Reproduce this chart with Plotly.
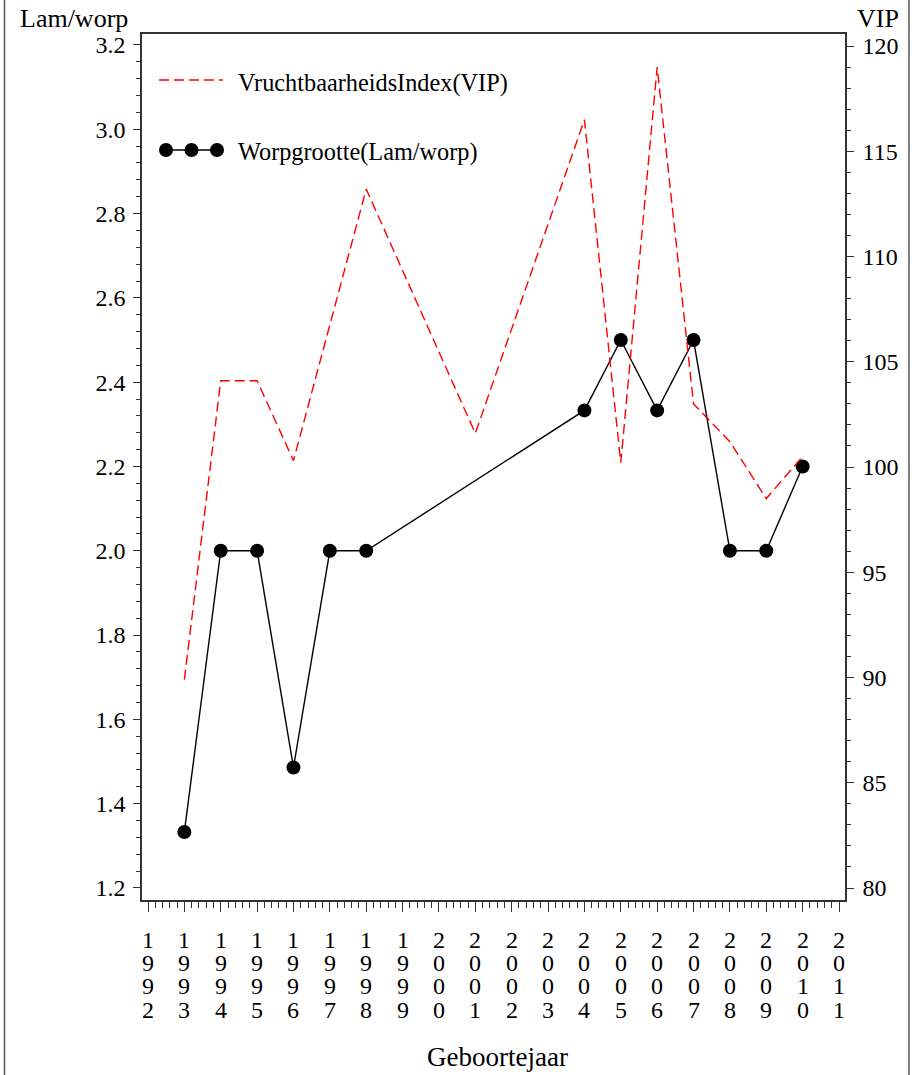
import plotly.graph_objects as go

# ---------------- data ----------------
worp_years = [1993, 1994, 1995, 1996, 1997, 1998, 2004, 2005, 2006, 2007, 2008, 2009, 2010]
worp_values = [1.333, 2.0, 2.0, 1.486, 2.0, 2.0, 2.333, 2.5, 2.333, 2.5, 2.0, 2.0, 2.2]

vip_years = [1993, 1994, 1995, 1996, 1998, 2001, 2004, 2005, 2006, 2007, 2008, 2009, 2010]
vip_values = [89.9, 104.1, 104.1, 100.3, 113.2, 101.6, 116.5, 100.2, 119.0, 103.0, 101.2, 98.5, 100.5]

tick_years = list(range(1992, 2012))
left_ticks = [1.2, 1.4, 1.6, 1.8, 2.0, 2.2, 2.4, 2.6, 2.8, 3.0, 3.2]
right_ticks = [80, 85, 90, 95, 100, 105, 110, 115, 120]

vip_name = "VruchtbaarheidsIndex(VIP)"
worp_name = "Worpgrootte(Lam/worp)"

# ---------------- layout geometry ----------------
W, H = 921, 1075
PL, PR, PT, PB = 142, 845, 34, 900
FONT = "Liberation Serif"
AX = "#333333"


def px_x(p):
    return (p - PL) / (PR - PL)


def px_y(p):
    return (PB - p) / (PB - PT)


fig = go.Figure()

fig.add_trace(go.Scatter(
    x=vip_years, y=vip_values, yaxis="y2", mode="lines",
    line=dict(color="#ff0000", width=1.4, dash="10px,5px"),
    name=vip_name, showlegend=False, hoverinfo="x+y"))

fig.add_trace(go.Scatter(
    x=worp_years, y=worp_values, mode="lines+markers",
    line=dict(color="black", width=1.4),
    marker=dict(color="black", size=14, symbol="circle"),
    name=worp_name, showlegend=False, hoverinfo="x+y"))

tickfont = dict(family=FONT, size=24, color="black")

fig.update_layout(
    width=W, height=H,
    margin=dict(l=PL, r=W - PR, t=PT, b=H - PB, pad=0),
    paper_bgcolor="white", plot_bgcolor="white",
    font=dict(family=FONT, color="black"),
    xaxis=dict(
        range=[1992 - 6 / 36.37, 2011 + 6 / 36.37],
        tickvals=tick_years, ticktext=["" for _ in tick_years],
        ticks="outside", ticklen=10, tickwidth=1.3, tickcolor=AX,
        minor=dict(dtick=0.2, tick0=1992, ticks="outside", ticklen=6,
                   tickwidth=1, tickcolor=AX, showgrid=False),
        showline=True, linecolor=AX, linewidth=1.5, mirror=True,
        showgrid=False, zeroline=False,
    ),
    yaxis=dict(
        range=[1.1715, 3.226],
        tickvals=left_ticks, tickformat=".1f",
        ticks="outside", ticklen=7, tickwidth=1.3, tickcolor=AX,
        minor=dict(dtick=0.04, tick0=1.2, ticks="outside", ticklen=4,
                   tickwidth=1, tickcolor=AX, showgrid=False),
        showline=True, linecolor=AX, linewidth=1.5,
        showgrid=False, zeroline=False, tickfont=tickfont,
        ticklabelstandoff=3,
    ),
    yaxis2=dict(
        range=[79.43, 120.57], overlaying="y", side="right",
        tickvals=right_ticks,
        ticks="outside", ticklen=7, tickwidth=1.3, tickcolor=AX,
        minor=dict(dtick=1, tick0=80, ticks="outside", ticklen=4,
                   tickwidth=1, tickcolor=AX, showgrid=False),
        showline=True, linecolor=AX, linewidth=1.5,
        showgrid=False, zeroline=False, tickfont=tickfont,
        ticklabelstandoff=4,
    ),
    showlegend=False,
)

annotations = []
# stacked-digit year labels
row_centres = [941, 964, 987, 1011]
for yr in tick_years:
    for k, ch in enumerate(str(yr)):
        annotations.append(dict(
            x=yr, xref="x", y=0, yref="paper", yanchor="middle",
            yshift=-(row_centres[k] - PB) + 1, text=ch, showarrow=False,
            font=dict(family=FONT, size=24, color="black"), xanchor="center"))

# axis titles
annotations.append(dict(x=px_x(18), xref="paper", xanchor="left",
                        y=px_y(18), yref="paper", yanchor="middle",
                        text="Lam/worp", showarrow=False,
                        font=dict(family=FONT, size=26, color="black")))
annotations.append(dict(x=px_x(901), xref="paper", xanchor="right",
                        y=px_y(18), yref="paper", yanchor="middle",
                        text="VIP", showarrow=False,
                        font=dict(family=FONT, size=26, color="black")))
annotations.append(dict(x=px_x(497), xref="paper", xanchor="center",
                        y=px_y(1057), yref="paper", yanchor="middle",
                        text="Geboortejaar", showarrow=False,
                        font=dict(family=FONT, size=27, color="black")))

# legend texts
annotations.append(dict(x=px_x(236), xref="paper", xanchor="left",
                        y=px_y(83), yref="paper", yanchor="middle",
                        text=vip_name, showarrow=False,
                        font=dict(family=FONT, size=24.3, color="black")))
annotations.append(dict(x=px_x(236), xref="paper", xanchor="left",
                        y=px_y(152), yref="paper", yanchor="middle",
                        text=worp_name, showarrow=False,
                        font=dict(family=FONT, size=24.3, color="black")))

shapes = []
# legend samples
shapes.append(dict(type="line", xref="paper", yref="paper",
                   x0=px_x(159), x1=px_x(223), y0=px_y(80), y1=px_y(80),
                   line=dict(color="#ff0000", width=1.4, dash="10px,5px")))
shapes.append(dict(type="line", xref="paper", yref="paper",
                   x0=px_x(166), x1=px_x(217), y0=px_y(150), y1=px_y(150),
                   line=dict(color="black", width=1.4)))
for cx in [166, 191.5, 217]:
    shapes.append(dict(type="circle", xref="paper", yref="paper",
                       xsizemode="pixel", ysizemode="pixel",
                       xanchor=px_x(cx), yanchor=px_y(150),
                       x0=-7, x1=7, y0=-7, y1=7,
                       fillcolor="black", line=dict(color="black", width=0)))
# outer frame (vertical borders)
for bx in [4.5, 909]:
    shapes.append(dict(type="line", xref="paper", yref="paper",
                       x0=px_x(bx), x1=px_x(bx), y0=px_y(0), y1=px_y(H),
                       line=dict(color="#555555", width=1.5)))

fig.update_layout(annotations=annotations, shapes=shapes)

fig.write_html("out.html")
